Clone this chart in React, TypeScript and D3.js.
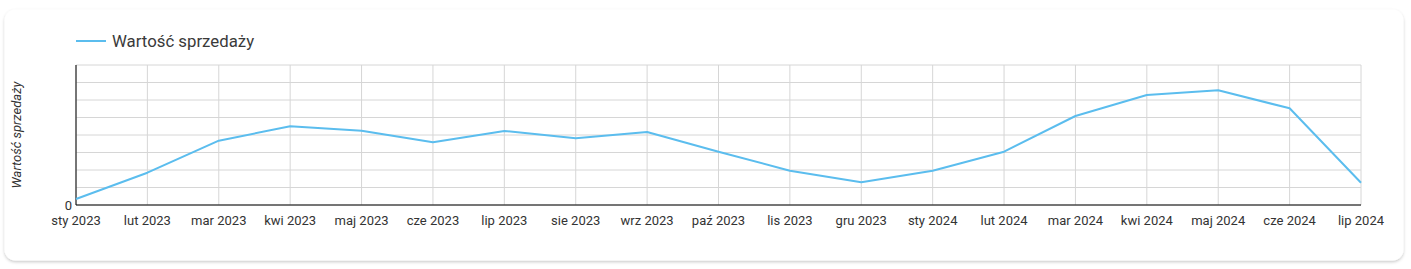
import React from "react";
import * as d3 from "d3";

const months = [
  "sty 2023", "lut 2023", "mar 2023", "kwi 2023", "maj 2023", "cze 2023",
  "lip 2023", "sie 2023", "wrz 2023", "paź 2023", "lis 2023", "gru 2023",
  "sty 2024", "lut 2024", "mar 2024", "kwi 2024", "maj 2024", "cze 2024", "lip 2024",
];
const salesValues = [
  3430, 18460, 36740, 44970, 42460, 35830, 42290, 38110, 41710, 30460,
  19600, 12970, 19600, 30460, 50860, 62860, 65540, 55260, 12740,
];
const yTicks = [0, 10000, 20000, 30000, 40000, 50000, 60000, 70000, 80000];
const seriesName = "Wartość sprzedaży";

const W = 1411;
const H = 269;
const plot = { left: 76, right: 1361, top: 65, bottom: 205 };
const lineColor = "#5bbdee";
const font = "Roboto, 'Noto Sans', sans-serif";

export default function App() {
  const x = d3.scalePoint<string>().domain(months).range([plot.left, plot.right]);
  const y = d3.scaleLinear().domain([0, 80000]).range([plot.bottom, plot.top]);
  const line = d3
    .line<number>()
    .x((_, i) => x(months[i]) as number)
    .y((d) => y(d));

  return (
    <div style={{ position: "absolute", left: 0, top: 0, width: W, height: H, background: "#fff" }}>
      <svg width={W} height={H} style={{ display: "block", fontFamily: font }}>
        <defs>
          <filter id="sh" x="-5%" y="-10%" width="110%" height="130%">
            <feDropShadow dx="0" dy="1.5" stdDeviation="1.5" floodColor="#000" floodOpacity="0.22" />
          </filter>
        </defs>
        <rect x={4.5} y={9.5} width={1399} height={251} rx={11} fill="#fff" filter="url(#sh)" />

        {/* horizontal grid */}
        {yTicks.map((t) => (
          <line key={"h" + t} x1={plot.left} x2={plot.right} y1={y(t)} y2={y(t)} stroke="#d6d6d6" strokeWidth={1} />
        ))}
        {/* vertical grid */}
        {months.map((m) => (
          <line key={"v" + m} x1={x(m)} x2={x(m)} y1={plot.top} y2={plot.bottom} stroke="#d6d6d6" strokeWidth={1} />
        ))}
        {/* axes */}
        <line x1={plot.left} x2={plot.left} y1={plot.top} y2={plot.bottom} stroke="#000" strokeWidth={1} />
        <line x1={plot.left} x2={plot.right} y1={plot.bottom} y2={plot.bottom} stroke="#000" strokeWidth={1} />

        {/* y tick label */}
        <text x={plot.left - 4} y={y(0)} dy="0.35em" textAnchor="end" fontSize={13} fill="#333">
          {0}
        </text>

        {/* x tick labels */}
        {months.map((m) => (
          <text key={"t" + m} x={x(m)} y={224.5} textAnchor="middle" fontSize={13} fill="#333">
            {m}
          </text>
        ))}

        {/* y axis title */}
        <text
          transform={`translate(21, ${(plot.top + plot.bottom) / 2}) rotate(-90)`}
          textAnchor="middle"
          fontSize={13}
          fontStyle="italic"
          fill="#333"
        >
          {seriesName}
        </text>

        {/* series line */}
        <path d={line(salesValues) || ""} fill="none" stroke={lineColor} strokeWidth={2} strokeLinejoin="round" />

        {/* legend */}
        <line x1={76} x2={106} y1={41} y2={41} stroke={lineColor} strokeWidth={2} />
        <text x={112} y={41} dy="0.35em" fontSize={16.8} fill="#3a3a3a">
          {seriesName}
        </text>
      </svg>
    </div>
  );
}
